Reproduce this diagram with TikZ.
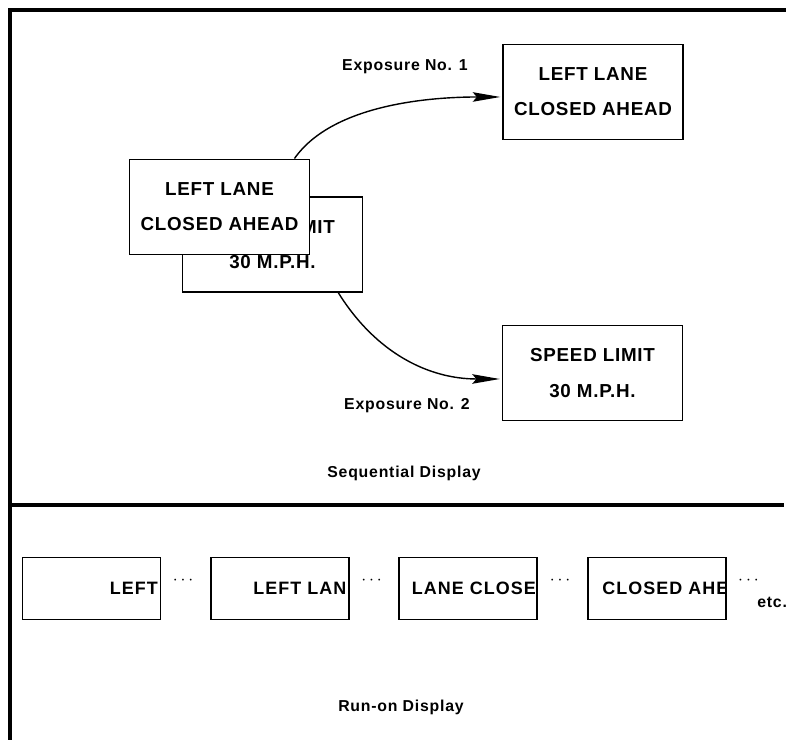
\documentclass[tikz,border=0pt]{standalone}
\usepackage{fontspec}
\setmainfont{Liberation Sans}
\newfontfamily\signfont[LetterSpace=4]{Liberation Sans}
\newfontfamily\runfont[LetterSpace=6]{Liberation Sans}
\newfontfamily\notefont[LetterSpace=5]{Liberation Sans}
\usetikzlibrary{arrows.meta, positioning}
\tikzstyle{sign}=[draw, line width=1.1pt, fill=white, minimum width=3.6cm, minimum height=1.9cm, align=center, font=\signfont\bfseries\fontsize{10.7}{20}\selectfont]
\tikzstyle{runbox}=[draw, line width=1.1pt, minimum width=2.76cm, minimum height=1.24cm, outer sep=0pt]
\tikzstyle{runtext}=[font=\runfont\bfseries\fontsize{10.2}{11}\selectfont, inner sep=0pt, anchor=west]
\tikzstyle{note}=[font=\notefont\bfseries\fontsize{9}{11}\selectfont]
\tikzstyle{frame}=[line width=1.8pt]

\begin{document}
\begin{tikzpicture}[x=0.02cm, y=0.02cm, shorten >=1pt, >={Stealth[length=5.5mm,width=1.9mm,inset=0.8mm]}]
  \useasboundingbox (0,0) rectangle (786,742);
  % frame
  \coordinate (tl) at (10,732);
  \coordinate (tr) at (786,732);
  \coordinate (bl) at (10,0);
  \coordinate (ml) at (10,237);
  \coordinate (mr) at (786,237);
  \draw[frame] (tr) -- (tl) -- (bl);
  \draw[frame] (ml) -- (mr);

  % sequential display
  \node[sign] (back) at (272.5,497.5) {SPEED LIMIT\\30 M.P.H.};
  \node[sign] (front) at (219.5,535) {LEFT LANE\\CLOSED AHEAD};
  \node[sign] (exp1) at (593,650) {LEFT LANE\\CLOSED AHEAD};
  \node[sign] (exp2) at (592.5,369) {SPEED LIMIT\\30 M.P.H.};
  \path[->, line width=0.8pt] ([xshift=-0.32cm]front.north east) edge[out=55, in=180, looseness=0.8] ([yshift=-0.1cm]exp1.west);
  \path[->, line width=0.8pt] ([xshift=-0.5cm]back.south east) edge[out=-58, in=180] ([yshift=-0.12cm]exp2.west);
  \node[note] (lab1) at (405,675) {Exposure No. 1};
  \node[note] (lab2) at (407,336) {Exposure No. 2};
  \node[note] (seq) at (404,269) {Sequential Display};

  % run-on display
  \node[runbox] (r1) at (91.5,153.5) {};
  \node[runbox, right=1.01cm of r1] (r2) {};
  \node[runbox, right=1.01cm of r2] (r3) {};
  \node[runbox, right=1.01cm of r3] (r4) {};
  \foreach \i/\off/\txt in {1/1.74cm/LEFT, 2/0.84cm/LEFT LANE, 3/0.24cm/LANE CLOSED, 4/0.28cm/CLOSED AHEAD} {
    \begin{scope}
      \clip (r\i.south west) rectangle (r\i.north east);
      \node[runtext] (t\i) at ([xshift=\off]r\i.west) {\txt};
    \end{scope}
    \node[anchor=base west, inner sep=0pt] (d\i) at ([xshift=0.24cm, yshift=0.08cm]r\i.east) {$\cdots$};
  }
  \node[note, anchor=west, inner sep=0pt] (etc) at (757,140) {etc.};
  \node[note] (run) at (401,35) {Run-on Display};
\end{tikzpicture}
\end{document}
